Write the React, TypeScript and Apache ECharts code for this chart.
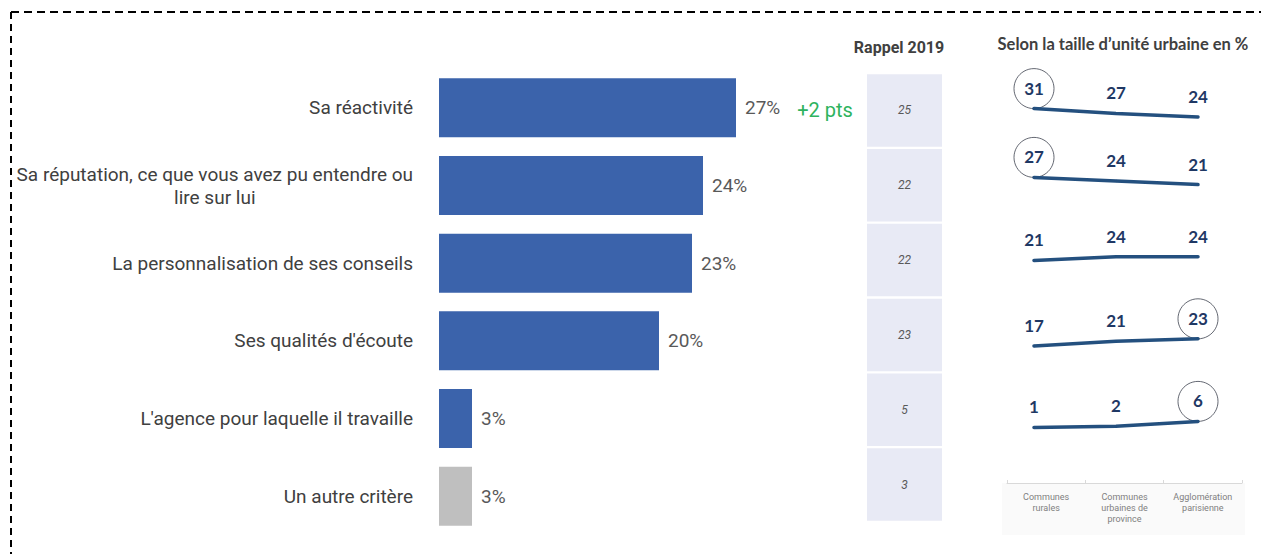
import { useEffect, useRef } from "react";
import * as echarts from "echarts";

const categories = [
  "Sa réactivité",
  "Sa réputation, ce que vous avez pu entendre ou\nlire sur lui",
  "La personnalisation de ses conseils",
  "Ses qualités d'écoute",
  "L'agence pour laquelle il travaille",
  "Un autre critère",
];
const values = [27, 24, 23, 20, 3, 3];
const evolutions = ["+2 pts", "", "", "", "", ""];
const rappel2019 = [25, 22, 22, 23, 5, 3];

const urbanCategories = ["Communes\nrurales", "Communes\nurbaines de\nprovince", "Agglomération\nparisienne"];
const urbanRows = [
  [31, 27, 24],
  [27, 24, 21],
  [21, 24, 24],
  [17, 21, 23],
  [1, 2, 6],
];
const circled = [
  [true, false, false],
  [true, false, false],
  [false, false, false],
  [false, false, true],
  [false, false, true],
];

const BLUE = "#3B63AB";
const GRAY = "#BFBFBF";
const LINE = "#24507F";
const NAVY = "#1F3864";
const rowCenters = [113, 181, 258, 342, 425];

export default function App() {
  const ref = useRef<HTMLDivElement>(null);
  useEffect(() => {
    const chart = echarts.init(ref.current!, undefined, { renderer: "svg" });

    const grids: any[] = [
      { left: 439, width: 330, top: 69, height: 466 },
      { left: 867, width: 75, top: 73, height: 449 },
    ];
    const xAxes: any[] = [
      { gridIndex: 0, type: "value", min: 0, max: 30, show: false },
      { gridIndex: 1, type: "value", min: 0, max: 1, show: false },
    ];
    const yAxes: any[] = [
      {
        gridIndex: 0,
        type: "category",
        inverse: true,
        data: categories,
        axisLine: { show: false },
        axisTick: { show: false },
        axisLabel: {
          margin: 26,
          formatter: (v: string) => `{a|${v}}`,
          rich: {
            a: { align: "center", fontSize: 19, color: "#404040", fontFamily: "Roboto", lineHeight: 23 },
          },
        },
      },
      { gridIndex: 1, type: "category", inverse: true, data: categories, show: false },
    ];
    const series: any[] = [
      {
        type: "bar",
        xAxisIndex: 0,
        yAxisIndex: 0,
        data: values,
        barWidth: 59,
        itemStyle: {
          color: (p: any) => (p.dataIndex === categories.length - 1 ? GRAY : BLUE),
        },
        label: {
          show: true,
          position: "right",
          distance: 9,
          formatter: (p: any) => {
            const ev = evolutions[p.dataIndex];
            return ev ? `{v|${p.value}%}{g|${ev}}` : `{v|${p.value}%}`;
          },
          rich: {
            v: { fontSize: 19, color: "#595959", fontFamily: "Roboto" },
            g: { fontSize: 20, color: "#2EB35E", fontFamily: "Roboto", padding: [4, 0, 0, 17] },
          },
        },
      },
      {
        type: "custom",
        xAxisIndex: 1,
        yAxisIndex: 1,
        data: rappel2019.map((v, i) => [0, i, v]),
        encode: { x: 0, y: 1 },
        renderItem: (_params: any, api: any) => {
          const i = api.value(1);
          const s = api.coord([0, i]);
          const e = api.coord([1, i]);
          const h = api.size([0, 1])[1];
          return {
            type: "group",
            children: [
              {
                type: "rect",
                shape: { x: s[0], y: s[1] - h / 2 + 1.2, width: e[0] - s[0], height: h - 2.4 },
                style: { fill: "#E8EAF5" },
              },
              {
                type: "text",
                x: (s[0] + e[0]) / 2,
                y: s[1],
                style: {
                  text: String(api.value(2)),
                  fontSize: 12,
                  fontStyle: "italic",
                  fill: "#595959",
                  fontFamily: "Roboto",
                  align: "center",
                  verticalAlign: "middle",
                },
              },
            ],
          };
        },
      },
    ];

    urbanRows.forEach((row, i) => {
      const gi = grids.length;
      const mean = row.reduce((a, b) => a + b, 0) / row.length;
      grids.push({ left: 993, width: 246, top: rowCenters[i] - 12, height: 24 });
      xAxes.push({ gridIndex: gi, type: "category", data: urbanCategories, show: false, boundaryGap: true });
      yAxes.push({ gridIndex: gi, type: "value", min: mean - 10, max: mean + 10, show: false });
      series.push({
        type: "line",
        xAxisIndex: gi,
        yAxisIndex: gi,
        data: row,
        symbol: "circle",
        symbolSize: 2,
        showSymbol: true,
        lineStyle: { width: 3.5, color: LINE, cap: "round" },
        itemStyle: { color: LINE },
        label: {
          show: true,
          position: "top",
          distance: 11,
          fontSize: 17,
          fontWeight: "bold",
          fontFamily: "Lato",
          color: NAVY,
        },
      });
      series.push({
        type: "scatter",
        xAxisIndex: gi,
        yAxisIndex: gi,
        data: row.map((v, j) => (circled[i][j] ? v : "-")),
        symbolSize: 40,
        symbolOffset: [0, -20],
        itemStyle: { color: "rgba(0,0,0,0)", borderColor: "#3F4350", borderWidth: 1 },
        clip: false,
      });
    });

    const ag = grids.length;
    grids.push({ left: 1007, width: 235, top: 440, height: 43 });
    xAxes.push({
      gridIndex: ag,
      type: "category",
      data: urbanCategories,
      boundaryGap: true,
      axisLine: { lineStyle: { color: "#D9D9D9", width: 1 } },
      axisTick: { show: true, inside: true, length: 3, lineStyle: { color: "#D9D9D9" } },
      axisLabel: { fontSize: 9, color: "#808080", fontFamily: "Roboto", lineHeight: 11, margin: 8, interval: 0 },
    });
    yAxes.push({ gridIndex: ag, type: "value", show: false, splitLine: { show: false } });

    chart.setOption({
      animation: false,
      grid: grids,
      xAxis: xAxes,
      yAxis: yAxes,
      series,
      graphic: [
        { type: "rect", z: -10, shape: { x: 1002, y: 483, width: 243, height: 52 }, style: { fill: "#FAFAFA" } },
        {
          type: "line",
          shape: { x1: 11, y1: 12, x2: 1261, y2: 12 },
          style: { stroke: "#000", lineWidth: 2, lineDash: [8, 5] },
        },
        {
          type: "line",
          shape: { x1: 11, y1: 12, x2: 11, y2: 554 },
          style: { stroke: "#000", lineWidth: 2, lineDash: [7, 5] },
        },
        {
          type: "text",
          x: 899,
          y: 47,
          style: {
            text: "Rappel 2019",
            fontSize: 16,
            fontWeight: "bold",
            fontFamily: "Roboto",
            fill: "#404040",
            align: "center",
            verticalAlign: "middle",
          },
        },
        {
          type: "text",
          x: 1123,
          y: 44,
          style: {
            text: "Selon la taille d’unité urbaine en %",
            fontSize: 16.5,
            fontWeight: "bold",
            fontFamily: "Lato",
            fill: "#404040",
            align: "center",
            verticalAlign: "middle",
          },
        },
      ],
    });
    return () => chart.dispose();
  }, []);
  return <div ref={ref} style={{ position: "absolute", left: 0, top: 0, width: 1261, height: 554 }} />;
}
